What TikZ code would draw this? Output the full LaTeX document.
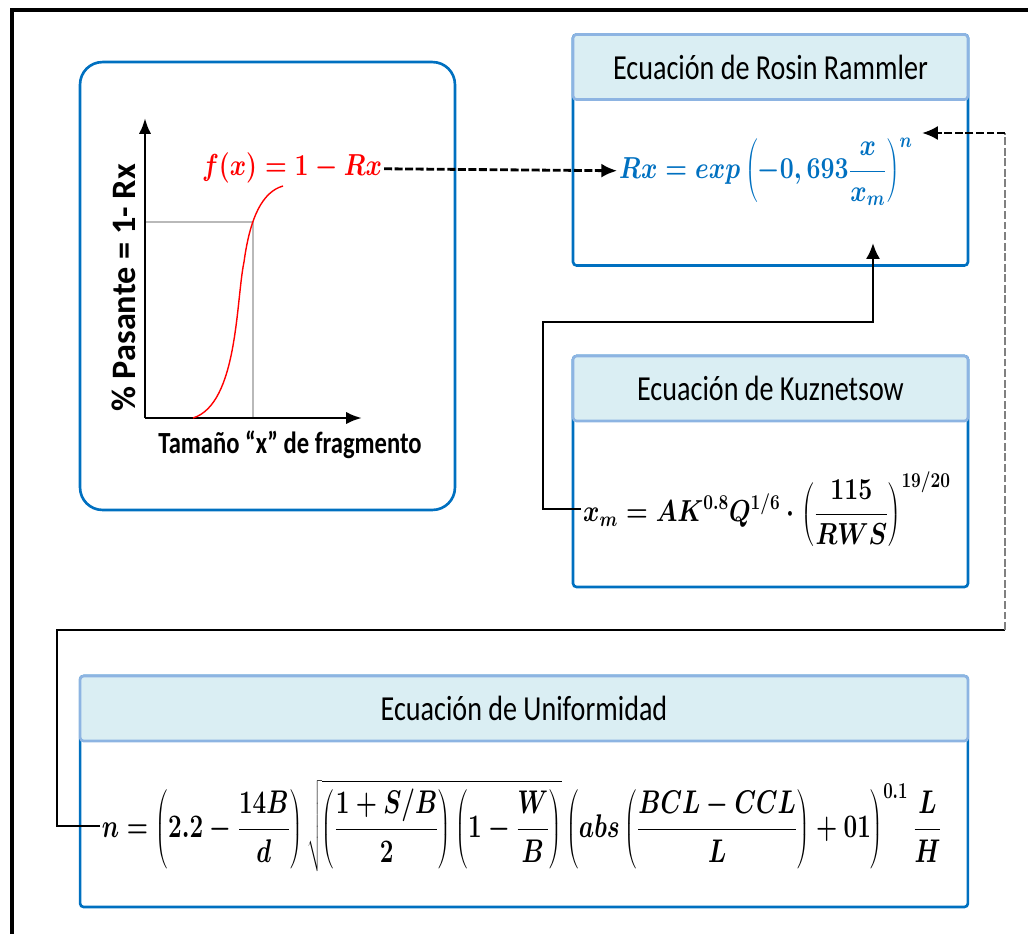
\documentclass[tikz,border=0pt]{standalone}
\usepackage{fontspec}
\setmainfont{Carlito}
\newfontfamily\cfont{Carlito}[FakeStretch=0.8]
\usetikzlibrary{arrows.meta, positioning, calc}

\definecolor{boxblue}{RGB}{0,112,192}
\definecolor{lineblue}{RGB}{141,180,226}
\definecolor{headfill}{RGB}{218,238,243}

\newcommand{\condmath}[1]{\scalebox{0.82}[1]{$\displaystyle #1$}}

\begin{document}
\begin{tikzpicture}[
    x=0.02cm, y=-0.02cm,
    graphbox/.style={draw=boxblue, line width=1.5pt, rounded corners=0.45cm, minimum width=7.5cm, minimum height=8.96cm},
    eqbox/.style={draw=boxblue, line width=1.5pt, rounded corners=2pt, minimum height=4.62cm},
    eqhead/.style={draw=lineblue, fill=headfill, line width=1.5pt, rounded corners=2pt, minimum height=1.3cm, anchor=north, font=\cfont\fontsize{20}{24}\selectfont},
    formula/.style={inner sep=1pt, font=\fontsize{17}{20}\selectfont\boldmath},
    axislabel/.style={font=\cfont\bfseries\fontsize{17.5}{21}\selectfont},
    link/.style={line width=1.5pt},
    dashlink/.style={line width=1.6pt, dash pattern=on 4.5pt off 1.5pt, -{Latex[length=9pt,width=8pt]}}
]
    \useasboundingbox (0,0) rectangle (1028,934);
    \draw[line width=2pt] (1028,10) -- (12,10) -- (12,934);

    % Graph box
    \node[graphbox] (graph) at (267.5,286) {};
    \coordinate (origin) at (145,418);
    \draw[gray!55, line width=1.2pt] (145,222) -| (253,418);
    \draw[line width=1.6pt, -{Latex[length=9pt,width=7pt]}] (origin) -- (145,118);
    \draw[line width=1.6pt, -{Latex[length=9pt,width=7pt]}] (origin) -- (362,418);
    \draw[red, line width=0.8pt] (193,418) .. controls (238,404) and (236,300) .. (244,262) .. controls (250,218) and (262,192) .. (283,186);
    \node[font=\bfseries\fontsize{19.5}{23}\selectfont, rotate=90] (ylabel) at (124,288) {\% Pasante = 1- Rx};
    \node[axislabel] (xlabel) at (290,445) {Tamaño “x” de fragmento};
    \node[formula, red] (fxlabel) at (292,168) {\condmath{f(x) = 1 - Rx}};

    % Equation boxes
    \node[eqbox, minimum width=7.9cm] (rosin) at (770.5,150) {};
    \node[eqhead, minimum width=7.9cm] (rosinhead) at (rosin.north) {Ecuación de Rosin Rammler};
    \node[eqbox, minimum width=7.9cm] (kuz) at (770.5,471.5) {};
    \node[eqhead, minimum width=7.9cm] (kuzhead) at (kuz.north) {Ecuación de Kuznetsow};
    \node[eqbox, minimum width=17.76cm] (unif) at (524,791.5) {};
    \node[eqhead, minimum width=17.76cm] (unifhead) at (unif.north) {Ecuación de Uniformidad};

    % Formulas
    \node[formula, text=boxblue] (rxeq) at (766,172) {\condmath{Rx = exp\left(-0,693\frac{x}{x_m}\right)^{n}}};
    \node[formula] (xmeq) at (767,509) {\condmath{x_m = AK^{0.8}Q^{1/6}\cdot\left(\frac{115}{RWS}\right)^{19/20}}};
    \node[formula] (neq) at (522,826) {\scalebox{0.975}[1.08]{\condmath{n = \left(2.2-\frac{14B}{d}\right)\sqrt{\left(\frac{1+S/B}{2}\right)\left(1-\frac{W}{B}\right)}\left(abs\left(\frac{BCL-CCL}{L}\right)+01\right)^{0.1}\frac{L}{H}}}};

    % Links
    \coordinate (xmturn) at (543,322);
    \coordinate (xmtip) at (873,243);
    \coordinate (nturn) at (57,630);
    \coordinate (ncorner) at (1005,630);
    \coordinate (nup) at (1005,133);
    \coordinate (ntip) at (922,133);
    \draw[dashlink] (fxlabel) -- (rxeq);
    \draw[link, -{Latex[length=9pt,width=8pt]}] (xmeq.west) -| (xmturn) -| (xmtip);
    \draw[link] (neq.west) -| (nturn) -- (ncorner);
    \draw[gray, line width=1.6pt, dash pattern=on 4.5pt off 1.5pt] (ncorner) -- (nup);
    \draw[dashlink] (nup) -- (ntip);
\end{tikzpicture}
\end{document}
